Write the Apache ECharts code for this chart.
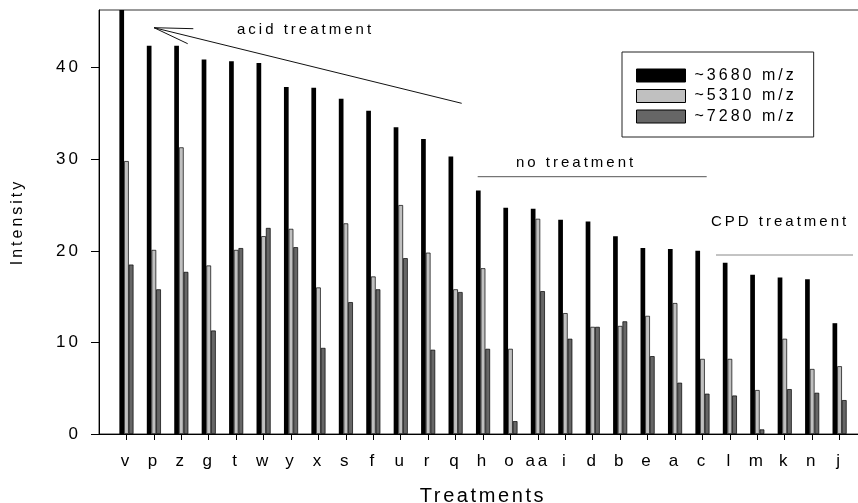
<!DOCTYPE html>
<html><head><meta charset="utf-8">
<script src="https://cdn.jsdelivr.net/npm/echarts@6/dist/echarts.min.js"></script>
<style>html,body{margin:0;padding:0;background:#fff}#c{width:858px;height:503px}</style>
</head><body><div id="c"></div>
<script>
// wide tracking like the original export
(function(){
  var P = CanvasRenderingContext2D.prototype;
  if (!('letterSpacing' in P)) return;
  var of = P.fillText, om = P.measureText;
  function sp(ctx){ var m = /(\d+(?:\.\d+)?)px/.exec(ctx.font); var s = m ? parseFloat(m[1]) : 12; ctx.letterSpacing = (s >= 19 ? 2.6 : 3) + 'px'; }
  P.fillText = function(){ sp(this); return of.apply(this, arguments); };
  P.measureText = function(){ sp(this); return om.apply(this, arguments); };
})();

const categories = ['v','p','z','g','t','w','y','x','s','f','u','r','q','h','o','aa','i','d','b','e','a','c','l','m','k','n','j'];
const s3680 = [46.5,42.4,42.4,40.9,40.7,40.5,37.9,37.8,36.6,35.3,33.5,32.2,30.3,26.6,24.7,24.6,23.4,23.2,21.6,20.3,20.2,20.0,18.7,17.4,17.1,16.9,12.1];
const s5310 = [29.8,20.1,31.3,18.4,20.1,21.6,22.4,16.0,23.0,17.2,25.0,19.8,15.8,18.1,9.3,23.5,13.2,11.7,11.8,12.9,14.3,8.2,8.2,4.8,10.4,7.1,7.4];
const s7280 = [18.5,15.8,17.7,11.3,20.3,22.5,20.4,9.4,14.4,15.8,19.2,9.2,15.5,9.3,1.4,15.6,10.4,11.7,12.3,8.5,5.6,4.4,4.2,0.5,4.9,4.5,3.7];
const seriesNames = ['~3680 m/z','~5310 m/z','~7280 m/z'];
const yTicks = [0,10,20,30,40];

const padCat = a => [''].concat(a, ['']);
const padVal = a => ['-'].concat(a, ['-']);
const FONT = 'Arial, "Liberation Sans", sans-serif';

const chart = echarts.init(document.getElementById('c'), null, {renderer:'canvas'});
const barBase = {type:'bar', barWidth:4.7, barGap:'0%', clip:true, animation:false};
chart.setOption({
  animation:false,
  backgroundColor:'#fff',
  textStyle:{fontFamily:FONT},
  grid:{left:99, top:10, width:768, height:424, show:true, borderColor:'#333', borderWidth:1, backgroundColor:'transparent', outerBoundsMode:'none', containLabel:false},
  legend:{
    data:seriesNames, orient:'vertical', left:622, top:52,
    itemWidth:49, itemHeight:13, itemGap:1.5, icon:'rect',
    padding:[14,17,11,14], borderColor:'#222', borderWidth:1,
    itemStyle:{borderColor:'#000', borderWidth:1},
    textStyle:{fontSize:16, color:'#000', fontFamily:FONT, lineHeight:15, padding:[0,0,0,4]}
  },
  xAxis:{
    type:'category', boundaryGap:false, data:padCat(categories),
    axisLine:{lineStyle:{color:'#000', width:1}},
    axisTick:{interval:function(i){return i>0 && i<=categories.length;}, length:6, lineStyle:{color:'#000'}},
    axisLabel:{interval:0, fontSize:17, margin:17, color:'#000', fontFamily:FONT},
    splitLine:{show:false},
    name:'Treatments', nameLocation:'middle', nameGap:51,
    nameTextStyle:{fontSize:20, color:'#000', fontFamily:FONT}
  },
  yAxis:{
    type:'value', min:0, max:46.3, interval:10,
    axisLine:{show:true, lineStyle:{color:'#000', width:1}},
    axisTick:{show:true, length:8, customValues:yTicks, lineStyle:{color:'#000'}},
    axisLabel:{fontSize:17, margin:18, color:'#000', customValues:yTicks, fontFamily:FONT},
    splitLine:{show:false},
    name:'Intensity', nameLocation:'middle', nameGap:72,
    nameTextStyle:{fontSize:16, color:'#000', fontFamily:FONT}
  },
  series:[
    Object.assign({}, barBase, {name:seriesNames[0], data:padVal(s3680), itemStyle:{color:'#000', borderColor:'#000', borderWidth:0}}),
    Object.assign({}, barBase, {name:seriesNames[1], data:padVal(s5310), itemStyle:{color:'#c0c0c0', borderColor:'#000', borderWidth:0.7}}),
    Object.assign({}, barBase, {name:seriesNames[2], data:padVal(s7280), itemStyle:{color:'#666666', borderColor:'#000', borderWidth:0.7}})
  ],
  graphic:[
    {type:'text', x:237, y:30, style:{text:'acid treatment', fontSize:15, fontFamily:FONT, fill:'#000', textVerticalAlign:'middle'}},
    {type:'line', shape:{x1:154, y1:27.7, x2:461.7, y2:103.3}, style:{stroke:'#111', lineWidth:1}},
    {type:'line', shape:{x1:154, y1:27.7, x2:193.3, y2:28.7}, style:{stroke:'#111', lineWidth:1}},
    {type:'line', shape:{x1:154, y1:27.7, x2:187.7, y2:43.7}, style:{stroke:'#111', lineWidth:1}},
    {type:'text', x:516, y:163, style:{text:'no treatment', fontSize:15, fontFamily:FONT, fill:'#000', textVerticalAlign:'middle'}},
    {type:'line', shape:{x1:477.7, y1:176.7, x2:706.7, y2:176.7}, style:{stroke:'#555', lineWidth:1}},
    {type:'text', x:711, y:221.5, style:{text:'CPD treatment', fontSize:15, fontFamily:FONT, fill:'#000', textVerticalAlign:'middle'}},
    {type:'line', shape:{x1:716, y1:255, x2:853, y2:255}, style:{stroke:'#888', lineWidth:1}}
  ]
});
</script></body></html>
